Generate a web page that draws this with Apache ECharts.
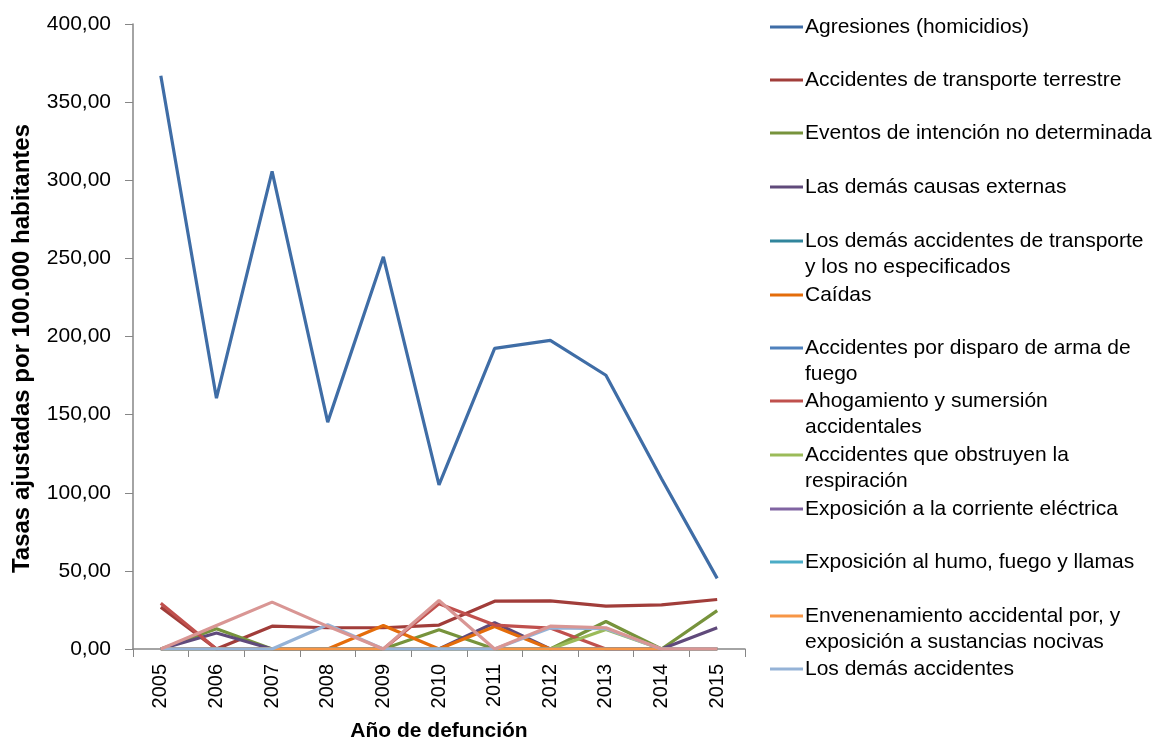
<!DOCTYPE html>
<html>
<head>
<meta charset="utf-8">
<script src="https://cdn.jsdelivr.net/npm/echarts@6/dist/echarts.min.js"></script>
<style>
  html, body { margin: 0; padding: 0; background: #fff; }
  #chart { width: 1157px; height: 747px; }
</style>
</head>
<body>
<div id="chart"></div>
<script>
// años
const years = ['2005', '2006', '2007', '2008', '2009', '2010', '2011', '2012', '2013', '2014', '2015'];

// tasas por causa
const agresiones = [366.9, 160.5, 305.7, 145.2, 251.0, 105.0, 192.4, 197.5, 175.2, 109.0, 45.2];
const transporteTerrestre = [26.8, 0, 14.6, 13.6, 13.6, 15.3, 30.6, 30.8, 27.4, 28.2, 31.7];
const eventosNoDeterminada = [0, 13.0, 0, 0, 0, 12.3, 0, 0, 17.6, 0, 24.6];
const demasCausasExternas = [0, 10.2, 0, 0, 0, 0, 16.8, 0, 0, 0, 13.6];
const demasTransporte = [0, 0, 0, 0, 0, 0, 0, 0, 0, 0, 0];
const caidas = [0, 0, 0, 0, 15.1, 0, 14.4, 0, 0, 0, 0];
const disparo = [0, 0, 0, 0, 0, 0, 0, 0, 0, 0, 0];
const ahogamiento = [29.3, 0, 0, 0, 0, 28.9, 15.3, 13.4, 0, 0, 0];
const obstruyen = [0, 0, 0, 0, 0, 0, 0, 0, 12.5, 0, 0];
const corriente = [0, 0, 0, 0, 0, 0, 0, 0, 0, 0, 0];
const humo = [0, 0, 0, 0, 0, 0, 0, 0, 0, 0, 0];
const envenenamiento = [0, 0, 0, 0, 0, 0, 0, 0, 0, 0, 0];
const demasAccidentes = [0, 0, 0, 15.5, 0, 0, 0, 13.5, 13.0, 0, 0];
const otros = [0, 15.0, 30.0, 14.5, 0, 31.0, 0, 14.6, 13.6, 0, 0];

const yTicks = [0, 50, 100, 150, 200, 250, 300, 350, 400];

// nombre, datos, color, centro y de la leyenda, segunda línea
const causas = [
  ['Agresiones (homicidios)', agresiones, '#3F6DA6', 27, null],
  ['Accidentes de transporte terrestre', transporteTerrestre, '#A13D3A', 80, null],
  ['Eventos de intención no determinada', eventosNoDeterminada, '#77933C', 133, null],
  ['Las demás causas externas', demasCausasExternas, '#604A7B', 187, null],
  ['Los demás accidentes de transporte', demasTransporte, '#31859C', 241, 'y los no especificados'],
  ['Caídas', caidas, '#E46C0A', 295, null],
  ['Accidentes por disparo de arma de', disparo, '#4F81BD', 348, 'fuego'],
  ['Ahogamiento y sumersión', ahogamiento, '#C0504D', 401, 'accidentales'],
  ['Accidentes que obstruyen la', obstruyen, '#9BBB59', 455, 'respiración'],
  ['Exposición a la corriente eléctrica', corriente, '#8064A2', 509, null],
  ['Exposición al humo, fuego y llamas', humo, '#4BACC6', 562, null],
  ['Envenenamiento accidental por, y', envenenamiento, '#F79646', 616, 'exposición a sustancias nocivas'],
  ['Los demás accidentes', demasAccidentes, '#95B3D7', 669, null],
];

const sans = '"Liberation Sans", Arial, sans-serif';
const fmt = v => v.toFixed(2).replace('.', ',');

const series = causas.map(c => ({
  name: c[0],
  type: 'line',
  data: c[1],
  symbol: 'none',
  lineStyle: { width: 3.2, color: c[2] },
  itemStyle: { color: c[2] },
  animation: false,
}));
series.push({
  name: 'Otros',
  type: 'line',
  data: otros,
  symbol: 'none',
  lineStyle: { width: 3.2, color: '#D99694' },
  itemStyle: { color: '#D99694' },
  animation: false,
});

const legends = causas.map(c => ({
  data: [c[0]],
  left: 770,
  top: c[3] - 13,
  padding: 0,
  icon: 'rect',
  itemWidth: 33,
  itemHeight: 3,
  itemGap: 0,
  selectedMode: false,
  textStyle: { fontFamily: sans, fontSize: 21, color: '#000', lineHeight: 26, padding: [0, 0, 0, -3] },
}));

const extraLines = causas.filter(c => c[4]).map(c => ({
  type: 'text',
  left: 805,
  top: c[3] + 16,
  style: { text: c[4], font: '21px ' + sans, fill: '#000' },
}));

const chart = echarts.init(document.getElementById('chart'));
chart.setOption({
  backgroundColor: '#fff',
  animation: false,
  grid: { left: 133, right: 412, top: 24, bottom: 95 },
  legend: legends,
  graphic: extraLines,
  xAxis: {
    type: 'category',
    data: years,
    boundaryGap: true,
    name: 'Año de defunción',
    nameLocation: 'middle',
    nameGap: 72,
    nameTextStyle: { fontFamily: sans, fontSize: 21, fontWeight: 'bold', color: '#000' },
    axisLine: { lineStyle: { color: '#868686', width: 1.5 } },
    axisTick: { show: true, length: 8, lineStyle: { color: '#868686' } },
    axisLabel: { rotate: 90, fontSize: 20, color: '#000', fontFamily: sans, margin: 15 },
    splitLine: { show: false },
  },
  yAxis: {
    type: 'value',
    min: yTicks[0],
    max: yTicks[yTicks.length - 1],
    interval: 50,
    name: 'Tasas ajustadas por 100.000 habitantes',
    nameLocation: 'middle',
    nameGap: 99,
    nameRotate: 90,
    nameTextStyle: { fontFamily: sans, fontSize: 24, fontWeight: 'bold', color: '#000', padding: [0, 24, 0, 0] },
    axisLine: { show: true, lineStyle: { color: '#868686', width: 1.5 } },
    axisTick: { show: true, length: 8, lineStyle: { color: '#868686' } },
    axisLabel: { fontSize: 21, color: '#000', fontFamily: sans, margin: 22, formatter: v => fmt(v) },
    splitLine: { show: false },
  },
  series,
});
</script>
</body>
</html>
